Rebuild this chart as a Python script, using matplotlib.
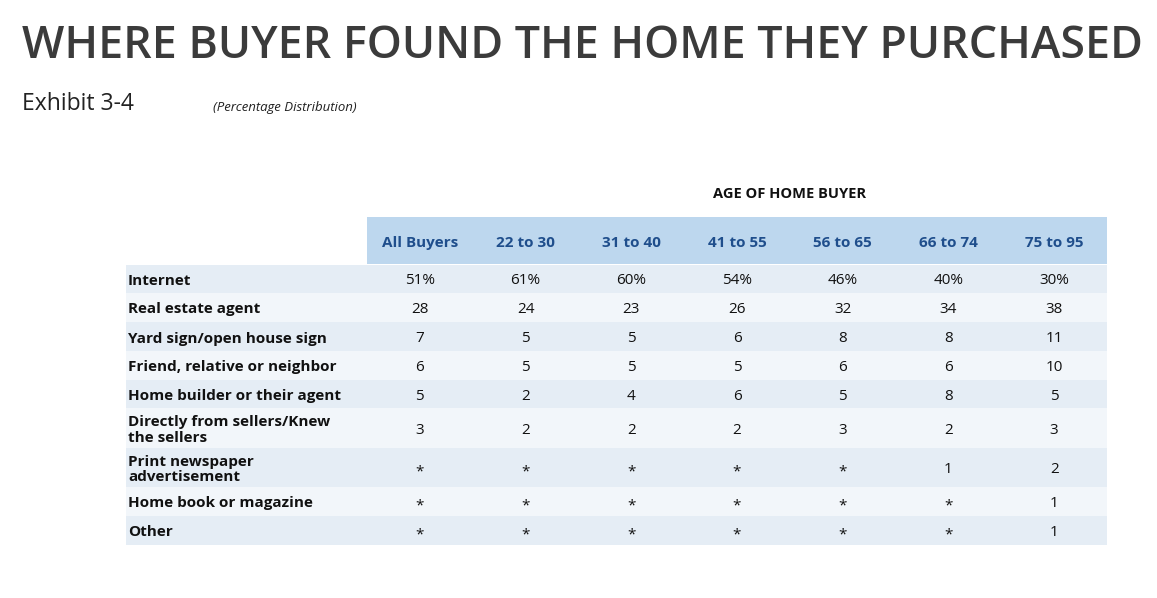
import matplotlib.pyplot as plt
from matplotlib.patches import Rectangle

columns = ['All Buyers', '22 to 30', '31 to 40', '41 to 55', '56 to 65', '66 to 74', '75 to 95']
sources = ['Internet', 'Real estate agent', 'Yard sign/open house sign',
           'Friend, relative or neighbor', 'Home builder or their agent',
           'Directly from sellers/Knew\nthe sellers', 'Print newspaper\nadvertisement',
           'Home book or magazine', 'Other']
values = [
    ['51%', '61%', '60%', '54%', '46%', '40%', '30%'],
    ['28', '24', '23', '26', '32', '34', '38'],
    ['7', '5', '5', '6', '8', '8', '11'],
    ['6', '5', '5', '5', '6', '6', '10'],
    ['5', '2', '4', '6', '5', '8', '5'],
    ['3', '2', '2', '2', '3', '2', '3'],
    ['*', '*', '*', '*', '*', '1', '2'],
    ['*', '*', '*', '*', '*', '*', '1'],
    ['*', '*', '*', '*', '*', '*', '1'],
]

W, H = 1157, 598
fig = plt.figure(figsize=(W / 100, H / 100), dpi=100)
ax = fig.add_axes([0, 0, 1, 1])
ax.set_xlim(0, W)
ax.set_ylim(H, 0)
ax.axis('off')

font = 'Open Sans'
dark = '#3b3b3b'
blue = '#1f4e8c'

ax.text(22, 46, 'WHERE BUYER FOUND THE HOME THEY PURCHASED', fontsize=32.2,
        family=font, color=dark, va='center', ha='left', fontweight='semibold')
ax.text(22, 104, 'Exhibit 3-4', fontsize=16.5, family=font, color='#222222', va='center')
ax.text(213, 107, '(Percentage Distribution)', fontsize=9.5, family=font, style='italic',
        color='#222222', va='center')
ax.text(790, 194, 'AGE OF HOME BUYER', fontsize=10.5, family=font, fontweight='bold',
        color='#111111', va='center', ha='center')

# table geometry (pixels)
left, col0, right = 126, 367, 1107
col_w = (right - col0) / len(columns)
ax.add_patch(Rectangle((col0, 217), right - col0, 47, color='#bdd7ee', lw=0))
for j, c in enumerate(columns):
    ax.text(col0 + col_w * (j + 0.5), 243, c, fontsize=11, family=font, fontweight='bold',
            color=blue, ha='center', va='center')

row_h = [28, 29, 29, 29, 28, 40, 39, 29, 29]
y = 265
for i, (src, row) in enumerate(zip(sources, values)):
    h = row_h[i]
    ax.add_patch(Rectangle((left, y), right - left, h,
                           color='#e5edf5' if i % 2 == 0 else '#f2f6fa', lw=0))
    cy = y + h / 2 + 2
    ax.text(128, cy, src, fontsize=11, family=font, fontweight='bold', color='#111111',
            va='center', ha='left', linespacing=1.1)
    for j, v in enumerate(row):
        ax.text(col0 + col_w * (j + 0.5), cy + (2 if v == '*' else 0), v, fontsize=11,
                family=font, color='#111111', ha='center', va='center')
    y += h

fig.savefig('out.png', dpi=100)
